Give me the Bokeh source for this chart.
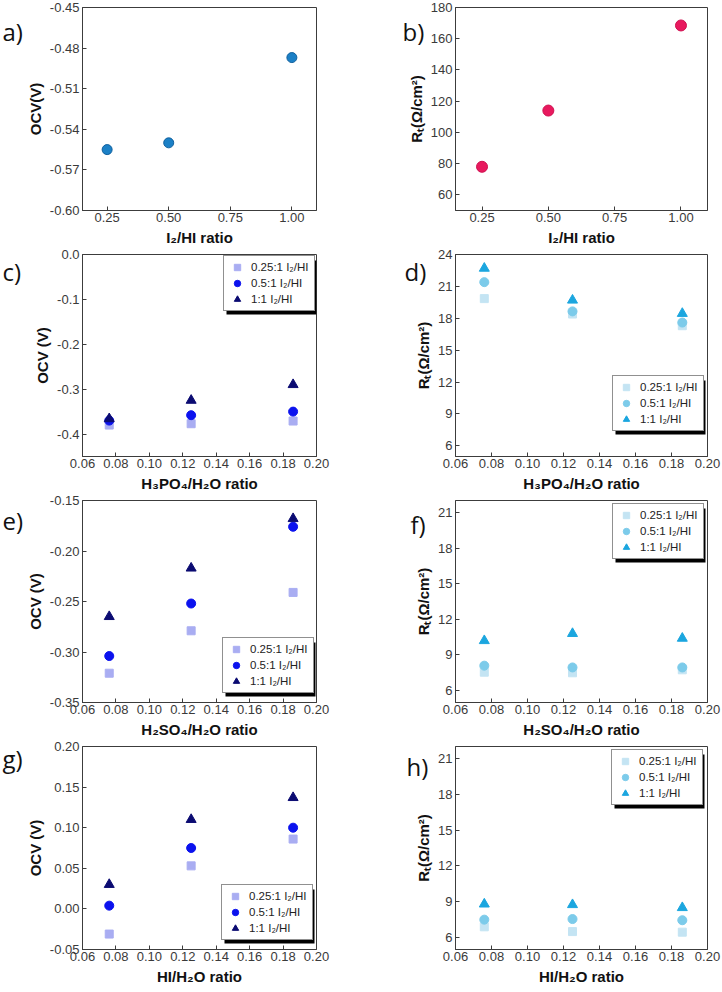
from bokeh.plotting import figure
from bokeh.layouts import gridplot
from bokeh.models import (Range1d, FixedTicker, NumeralTickFormatter, Label, Legend,
                          LegendItem, BoxAnnotation)
from bokeh.embed import file_html
from bokeh.resources import INLINE

# ---------------- data ----------------
i2_ratio = [0.25, 0.50, 1.00]
ocv_a = [-0.555, -0.550, -0.487]
rt_b = [78.0, 114.0, 168.5]

acid_ratio = [0.076, 0.125, 0.186]
series_labels = ["0.25:1 I\u2082/HI", "0.5:1 I\u2082/HI", "1:1 I\u2082/HI"]

ocv_c_025 = [-0.380, -0.377, -0.371]
ocv_c_05 = [-0.370, -0.358, -0.350]
ocv_c_1 = [-0.366, -0.325, -0.290]

rt_d_025 = [19.85, 18.4, 17.3]
rt_d_05 = [21.4, 18.65, 17.6]
rt_d_1 = [22.7, 19.7, 18.45]

ocv_e_025 = [-0.321, -0.279, -0.241]
ocv_e_05 = [-0.304, -0.252, -0.176]
ocv_e_1 = [-0.265, -0.217, -0.168]

rt_f_025 = [7.55, 7.5, 7.75]
rt_f_05 = [8.1, 7.95, 7.95]
rt_f_1 = [10.2, 10.8, 10.4]

ocv_g_025 = [-0.031, 0.053, 0.086]
ocv_g_05 = [0.004, 0.075, 0.100]
ocv_g_1 = [0.030, 0.110, 0.137]

rt_h_025 = [6.9, 6.5, 6.45]
rt_h_05 = [7.5, 7.55, 7.45]
rt_h_1 = [8.8, 8.75, 8.5]

x_ticks_a = [0.25, 0.50, 0.75, 1.00]
x_ticks_acid = [0.06, 0.08, 0.10, 0.12, 0.14, 0.16, 0.18, 0.20]
y_ticks_a = [-0.60, -0.57, -0.54, -0.51, -0.48, -0.45]
y_ticks_b = [60, 80, 100, 120, 140, 160, 180]
y_ticks_c = [-0.4, -0.3, -0.2, -0.1, 0.0]
y_ticks_d = [6, 9, 12, 15, 18, 21, 24]
y_ticks_e = [-0.35, -0.30, -0.25, -0.20, -0.15]
y_ticks_rt = [6, 9, 12, 15, 18, 21]
y_ticks_g = [-0.05, 0.00, 0.05, 0.10, 0.15, 0.20]

OCV_COLORS = ["#a9adf2", "#0b12ee", "#0b0b72"]
RT_COLORS = ["#c4e4f3", "#7ccbea", "#1ba6df"]
MARKERS = ["square", "circle", "triangle"]
MSIZES = [8, 9, 10]

# ---------------- layout ----------------
COLS = [(360, 82, 44), (362, 95, 15)]
ROWS = [(248, 7, 38), (246, 6, 38), (246, 6, 38), (252, 6, 43)]
LEFT_FRAME_W = 360 - 82 - 44
FONT = "Liberation Sans"
LEG_PAD, LEG_GW, LEG_GH, LEG_STAND, LEG_LW = 3, 20, 16, 4, 60
LEG_W = 2 * LEG_PAD + LEG_GW + LEG_STAND + LEG_LW
LEG_H = 2 * LEG_PAD + 3 * LEG_GH
LBL_STYLE = dict(text_font="Open Sans", text_font_size="24px", text_color="#111111",
                 text_baseline="alphabetic")


def make(col, row, xr, yr, xticks, yticks, xfmt, yfmt, xlabel, ylabel):
    cw, bl, br = COLS[col]
    rh, bt, bb = ROWS[row]
    p = figure(width=cw, height=rh, output_backend="svg", toolbar_location=None,
               x_range=Range1d(*xr), y_range=Range1d(*yr),
               min_border_left=bl, min_border_right=br, min_border_top=bt, min_border_bottom=bb)
    p.xgrid.visible = False
    p.ygrid.visible = False
    p.outline_line_color = "#3c3c3c"
    p.outline_line_width = 1
    p.outline_line_alpha = 1
    p.background_fill_color = "white"
    p.border_fill_color = "white"
    p.xaxis.ticker = FixedTicker(ticks=xticks)
    p.yaxis.ticker = FixedTicker(ticks=yticks)
    p.xaxis.formatter = NumeralTickFormatter(format=xfmt)
    p.yaxis.formatter = NumeralTickFormatter(format=yfmt)
    p.xaxis.axis_label = xlabel
    p.yaxis.axis_label = ylabel
    for ax in (p.xaxis[0], p.yaxis[0]):
        ax.axis_line_color = "#3c3c3c"
        ax.major_tick_line_color = "#3c3c3c"
        ax.major_tick_in = 4
        ax.major_tick_out = 0
        ax.minor_tick_in = 0
        ax.minor_tick_out = 0
        ax.major_label_text_font = FONT
        ax.major_label_text_font_size = "13px"
        ax.major_label_text_color = "#3a3a3a"
        ax.axis_label_text_font = FONT
        ax.axis_label_text_font_style = "bold"
        ax.axis_label_text_font_size = "15px"
        ax.axis_label_text_color = "#111111"
    p.xaxis.major_label_standoff = 2
    p.yaxis.major_label_standoff = 3
    p.xaxis.axis_label_standoff = 4
    p.yaxis.axis_label_standoff = 3
    return p


def slot_label(p, text, xr, yr, dx, dy):
    # panel letter placed in the left side panel, positioned relative to the frame's top-left
    p.add_layout(Label(x=xr[0], y=yr[1], x_offset=dx, y_offset=dy, text=text, **LBL_STYLE), "left")


def add_series(p, ys, colors):
    rs = []
    for y, c, m, s in zip(ys, colors, MARKERS, MSIZES):
        rs.append(p.scatter(acid_ratio, y, marker=m, size=s, fill_color=c, line_color=c))
    return rs


def add_legend(p, renderers, vx, vy):
    items = [LegendItem(label=l, renderers=[r]) for l, r in zip(series_labels, renderers)]
    shadow = BoxAnnotation(left=vx + 3, right=vx + 3 + LEG_W, bottom=vy - 3, top=vy - 3 + LEG_H,
                           left_units="screen", right_units="screen",
                           bottom_units="screen", top_units="screen",
                           fill_color="black", fill_alpha=1, line_color=None)
    leg = Legend(items=items, location=(vx, vy), background_fill_color="white",
                 background_fill_alpha=1, border_line_color="#222222", border_line_width=1,
                 label_text_color="#222222", label_text_font=FONT, label_text_font_size="11.5px",
                 glyph_width=LEG_GW, glyph_height=LEG_GH, spacing=0, padding=LEG_PAD,
                 label_standoff=LEG_STAND, label_width=LEG_LW, label_height=LEG_GH, margin=0)
    p.add_layout(shadow)
    p.add_layout(leg)


ACID_X = (0.06, 0.20)
A_X = (0.15, 1.10)

# a)
A_Y = (-0.60, -0.45)
pa = make(0, 0, A_X, A_Y, x_ticks_a, y_ticks_a, "0.00", "0.00", "I\u2082/HI ratio", "OCV(V)")
pa.scatter(i2_ratio, ocv_a, marker="circle", size=10, fill_color="#1b80c6", line_color="#10609e")
slot_label(pa, "a)", A_X, A_Y, -80, -24)

# b)
B_Y = (50, 180)
pb = make(1, 0, A_X, B_Y, x_ticks_a, y_ticks_b, "0.00", "0", "I\u2082/HI ratio",
          "R\u209c(\u03a9/cm\u00b2)")
pb.scatter(i2_ratio, rt_b, marker="circle", size=11, fill_color="#e8195e", line_color="#d01050")
slot_label(pb, "b)", A_X, B_Y, -53, -24)

# c)
C_Y = (-0.45, 0.0)
pc = make(0, 1, ACID_X, C_Y, x_ticks_acid, y_ticks_c, "0.00", "0.0",
          "H\u2083PO\u2084/H\u2082O ratio", "OCV (V)")
rc = add_series(pc, [ocv_c_025, ocv_c_05, ocv_c_1], OCV_COLORS)
add_legend(pc, rc, LEFT_FRAME_W - 93, 202 - 3 - LEG_H)
slot_label(pc, "c)", ACID_X, C_Y, -80, -17)

# d)
D_Y = (5, 24)
pd_ = make(1, 1, ACID_X, D_Y, x_ticks_acid, y_ticks_d, "0.00", "0",
           "H\u2083PO\u2084/H\u2082O ratio", "R\u209c(\u03a9/cm\u00b2)")
rd = add_series(pd_, [rt_d_025, rt_d_05, rt_d_1], RT_COLORS)
add_legend(pd_, rd, 157, 25)
slot_label(pd_, "d)", ACID_X, D_Y, -51, -17)

# e)
E_Y = (-0.35, -0.15)
pe = make(0, 2, ACID_X, E_Y, x_ticks_acid, y_ticks_e, "0.00", "0.00",
          "H\u2082SO\u2084/H\u2082O ratio", "OCV (V)")
re_ = add_series(pe, [ocv_e_025, ocv_e_05, ocv_e_1], OCV_COLORS)
add_legend(pe, re_, LEFT_FRAME_W - 94, 9)
slot_label(pe, "e)", ACID_X, E_Y, -80, -20)

# f)
RT_Y = (5, 22)
pf = make(1, 2, ACID_X, RT_Y, x_ticks_acid, y_ticks_rt, "0.00", "0",
          "H\u2082SO\u2084/H\u2082O ratio", "R\u209c(\u03a9/cm\u00b2)")
rf = add_series(pf, [rt_f_025, rt_f_05, rt_f_1], RT_COLORS)
add_legend(pf, rf, 157, 202 - 5 - LEG_H)
slot_label(pf, "f)", ACID_X, RT_Y, -45, -24)

# g)
G_Y = (-0.05, 0.20)
pg = make(0, 3, ACID_X, G_Y, x_ticks_acid, y_ticks_g, "0.00", "0.00",
          "HI/H\u2082O ratio", "OCV (V)")
rg = add_series(pg, [ocv_g_025, ocv_g_05, ocv_g_1], OCV_COLORS)
add_legend(pg, rg, LEFT_FRAME_W - 95, 9)
slot_label(pg, "g)", ACID_X, G_Y, -80, -12)

# h)
ph = make(1, 3, ACID_X, RT_Y, x_ticks_acid, y_ticks_rt, "0.00", "0",
          "HI/H\u2082O ratio", "R\u209c(\u03a9/cm\u00b2)")
rh = add_series(ph, [rt_h_025, rt_h_05, rt_h_1], RT_COLORS)
add_legend(ph, rh, 156, 203 - 5 - LEG_H)
slot_label(ph, "h)", ACID_X, RT_Y, -49, -20)

grid = gridplot([[pa, pb], [pc, pd_], [pe, pf], [pg, ph]], toolbar_location=None)

open("out.html", "w").write(file_html(grid, INLINE))
